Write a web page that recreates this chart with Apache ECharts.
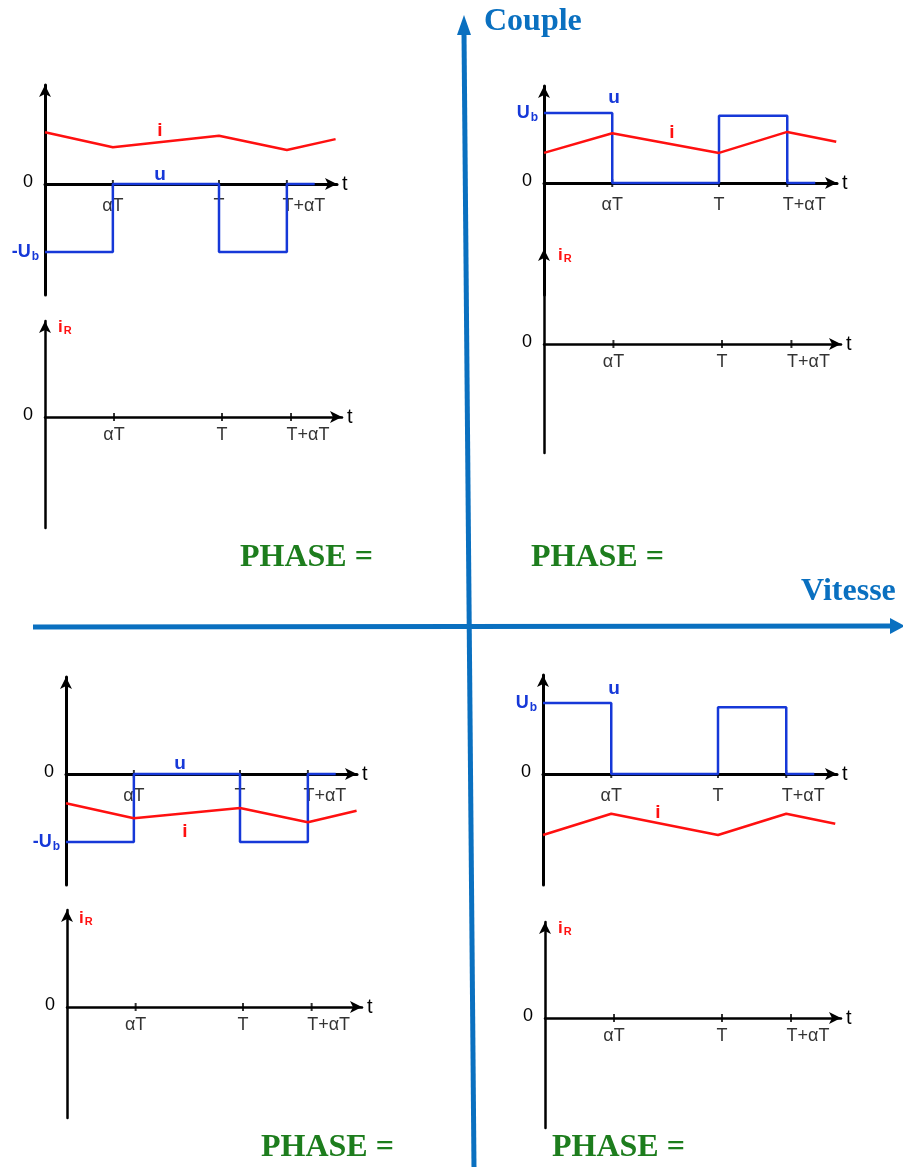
<!DOCTYPE html>
<html>
<head>
<meta charset="utf-8">
<script src="https://cdn.jsdelivr.net/npm/echarts@6/dist/echarts.min.js"></script>
<style>
  html, body { margin: 0; padding: 0; background: #ffffff; }
  #chart { width: 903px; height: 1167px; }
</style>
</head>
<body>
<div id="chart"></div>
<script>
// Time axis: one chopper period T = 1, duty ratio alpha = 0.39
const tickTimes = [0.39, 1, 1.39];
const tickLabels = ['αT', 'T', 'T+αT'];

// Armature voltage u (in units of Ub), held until the next breakpoint
const uTimes = [0, 0.39, 1, 1.39, 1.55];
const uQ1 = [1, 0, 0.96, 0, 0];
const uQ2 = [-1, 0, -1, 0, 0];
const uQ3 = [-1, 0, -1, 0, 0];
const uQ4 = [1, 0, 0.94, 0, 0];

// Armature current i (same units), piecewise linear ripple
const iTimes = [0, 0.39, 1, 1.39, 1.67];
const iQ1 = [0.43, 0.71, 0.43, 0.73, 0.59];
const iQ2 = [0.76, 0.54, 0.71, 0.50, 0.66];
const iQ3 = [-0.43, -0.65, -0.50, -0.71, -0.54];
const iQ4 = [-0.86, -0.56, -0.86, -0.56, -0.70];

// Texts
const axisCouple = 'Couple';
const axisVitesse = 'Vitesse';
const phaseText = 'PHASE =';

const BLUE = '#1638d8';
const RED = '#ff1010';
const BIG_BLUE = '#0a70c0';
const GREEN = '#1d7d1d';
const SANS = '"Liberation Sans", Arial, sans-serif';
const SERIF = '"Liberation Serif", "Times New Roman", serif';

// Panel layout in pixels: y-axis x, zero line y, px per period, px per unit,
// top / bottom of the vertical axis, end of the time axis
const panels = [
  { kind: 'ui', left: 45,  zero: 184,  pxT: 174, pxU: 68, top: 85,  bottom: 295,  xEnd: 337, u: uQ2, i: iQ2, ub: -1, uAt: [160, 175], iAt: [160, 131] },
  { kind: 'ir', left: 45,  zero: 417,  pxT: 177, pxU: 96, top: 321, bottom: 528,  xEnd: 342, irAt: [58, 327] },
  { kind: 'ui', left: 544, zero: 183,  pxT: 175, pxU: 70, top: 86,  bottom: 295,  xEnd: 837, u: uQ1, i: iQ1, ub: 1, uAt: [614, 98], iAt: [672, 133] },
  { kind: 'ir', left: 544, zero: 344,  pxT: 178, pxU: 95, top: 249, bottom: 453,  xEnd: 841, irAt: [558, 255] },
  { kind: 'ui', left: 66,  zero: 774,  pxT: 174, pxU: 68, top: 677, bottom: 885,  xEnd: 357, u: uQ3, i: iQ3, ub: -1, uAt: [180, 764], iAt: [185, 832] },
  { kind: 'ir', left: 67,  zero: 1007, pxT: 176, pxU: 97, top: 910, bottom: 1118, xEnd: 362, irAt: [79, 918] },
  { kind: 'ui', left: 543, zero: 774,  pxT: 175, pxU: 71, top: 675, bottom: 885,  xEnd: 837, u: uQ4, i: iQ4, ub: 1, uAt: [614, 689], iAt: [658, 813] },
  { kind: 'ir', left: 545, zero: 1018, pxT: 177, pxU: 96, top: 922, bottom: 1128, xEnd: 841, irAt: [558, 928] }
];

const grids = [], xAxes = [], yAxes = [], series = [], graphics = [];

const zip = (xs, ys) => xs.map((x, k) => [x, ys[k]]);

panels.forEach((p, g) => {
  const isUI = p.kind === 'ui';
  const lineW = isUI ? 3 : 2.5;
  grids.push({ left: p.left, top: p.top, width: p.xEnd - p.left, height: p.bottom - p.top, containLabel: false });

  xAxes.push({
    gridIndex: g, type: 'value', min: 0, max: (p.xEnd - p.left) / p.pxT,
    axisLine: { onZero: true, symbol: ['none', 'arrow'], symbolSize: [9, 12], lineStyle: { color: '#000', width: lineW } },
    axisTick: { show: false },
    splitLine: { show: false },
    axisLabel: { show: false },
    name: 't', nameLocation: 'end', nameGap: 5,
    nameTextStyle: { fontFamily: SANS, fontSize: 20, color: '#000', verticalAlign: 'middle', padding: [4, 0, 0, 0] }
  });

  const ymax = (p.zero - p.top) / p.pxU;
  const ymin = -(p.bottom - p.zero) / p.pxU;
  yAxes.push({
    gridIndex: g, type: 'value', min: ymin, max: ymax,
    axisLine: { onZero: false, symbol: ['none', 'arrow'], symbolSize: [9, 12], lineStyle: { color: '#000', width: lineW } },
    axisTick: { show: false },
    splitLine: { show: false },
    axisLabel: {
      customValues: isUI ? [p.ub, 0] : [0],
      margin: 6,
      formatter: (v) => v === 0 ? '{z|0}' : '{b|' + (v < 0 ? '-U' : 'U') + '}{s|b}',
      rich: {
        z: { fontFamily: SANS, fontSize: 18, color: '#000', padding: [0, 6, 4, 0] },
        b: { fontFamily: SANS, fontSize: 18, fontWeight: 'bold', color: BLUE },
        s: { fontFamily: SANS, fontSize: 12, fontWeight: 'bold', color: BLUE, padding: [9, 0, 0, 1] }
      }
    }
  });

  // tick marks crossing the time axis, with their labels underneath
  series.push({
    type: 'scatter', xAxisIndex: g, yAxisIndex: g, silent: true, z: 1,
    symbol: 'rect', symbolSize: [2, 8],
    itemStyle: { color: '#000' },
    label: {
      show: true, position: 'bottom', distance: isUI ? 9 : 5,
      fontFamily: SANS, fontSize: 18, color: '#000',
      formatter: (d) => tickLabels[d.dataIndex]
    },
    data: tickTimes.map((t, k) => k === 2 ? { value: [t, 0], label: { offset: [17, 0] } } : [t, 0])
  });

  if (isUI) {
    series.push({
      type: 'line', xAxisIndex: g, yAxisIndex: g, step: 'end', showSymbol: false, silent: true, z: 3,
      lineStyle: { color: BLUE, width: 2.5 }, data: zip(uTimes, p.u)
    });
    series.push({
      type: 'line', xAxisIndex: g, yAxisIndex: g, showSymbol: false, silent: true, z: 4,
      lineStyle: { color: RED, width: 2.5 }, data: zip(iTimes, p.i)
    });
    graphics.push({ type: 'text', x: p.uAt[0], y: p.uAt[1], style: { text: 'u', fill: BLUE, font: 'bold 19px ' + SANS, textAlign: 'center', textVerticalAlign: 'middle' } });
    graphics.push({ type: 'text', x: p.iAt[0], y: p.iAt[1], style: { text: 'i', fill: RED, font: 'bold 19px ' + SANS, textAlign: 'center', textVerticalAlign: 'middle' } });
  } else {
    graphics.push({
      type: 'text', x: p.irAt[0], y: p.irAt[1],
      style: {
        text: '{a|i}{r|R}', textVerticalAlign: 'middle',
        rich: {
          a: { fontFamily: SANS, fontSize: 17, fontWeight: 'bold', fill: RED, color: RED },
          r: { fontFamily: SANS, fontSize: 11, fontWeight: 'bold', fill: RED, color: RED, padding: [8, 0, 0, 1] }
        }
      }
    });
  }
});

// Four-quadrant torque / speed axes
graphics.push({ type: 'line', shape: { x1: 474, y1: 1167, x2: 464, y2: 33 }, style: { stroke: BIG_BLUE, lineWidth: 5 } });
graphics.push({ type: 'polygon', shape: { points: [[457, 35], [471, 35], [464, 15]] }, style: { fill: BIG_BLUE } });
graphics.push({ type: 'line', shape: { x1: 33, y1: 627, x2: 893, y2: 626 }, style: { stroke: BIG_BLUE, lineWidth: 5 } });
graphics.push({ type: 'polygon', shape: { points: [[890, 618], [890, 634], [905, 626]] }, style: { fill: BIG_BLUE } });

graphics.push({ type: 'text', x: 484, y: 22, style: { text: axisCouple, fill: BIG_BLUE, font: 'bold 32px ' + SERIF, textVerticalAlign: 'middle' } });
graphics.push({ type: 'text', x: 801, y: 592, style: { text: axisVitesse, fill: BIG_BLUE, font: 'bold 32px ' + SERIF, textVerticalAlign: 'middle' } });

[[240, 558], [531, 558], [261, 1148], [552, 1148]].forEach(([x, y]) => {
  graphics.push({ type: 'text', x, y, style: { text: phaseText, fill: GREEN, font: 'bold 32px ' + SERIF, textVerticalAlign: 'middle' } });
});

const chart = echarts.init(document.getElementById('chart'), null, { renderer: 'canvas' });
chart.setOption({
  animation: false,
  backgroundColor: '#ffffff',
  grid: grids,
  xAxis: xAxes,
  yAxis: yAxes,
  series: series,
  graphic: graphics
});
</script>
</body>
</html>
